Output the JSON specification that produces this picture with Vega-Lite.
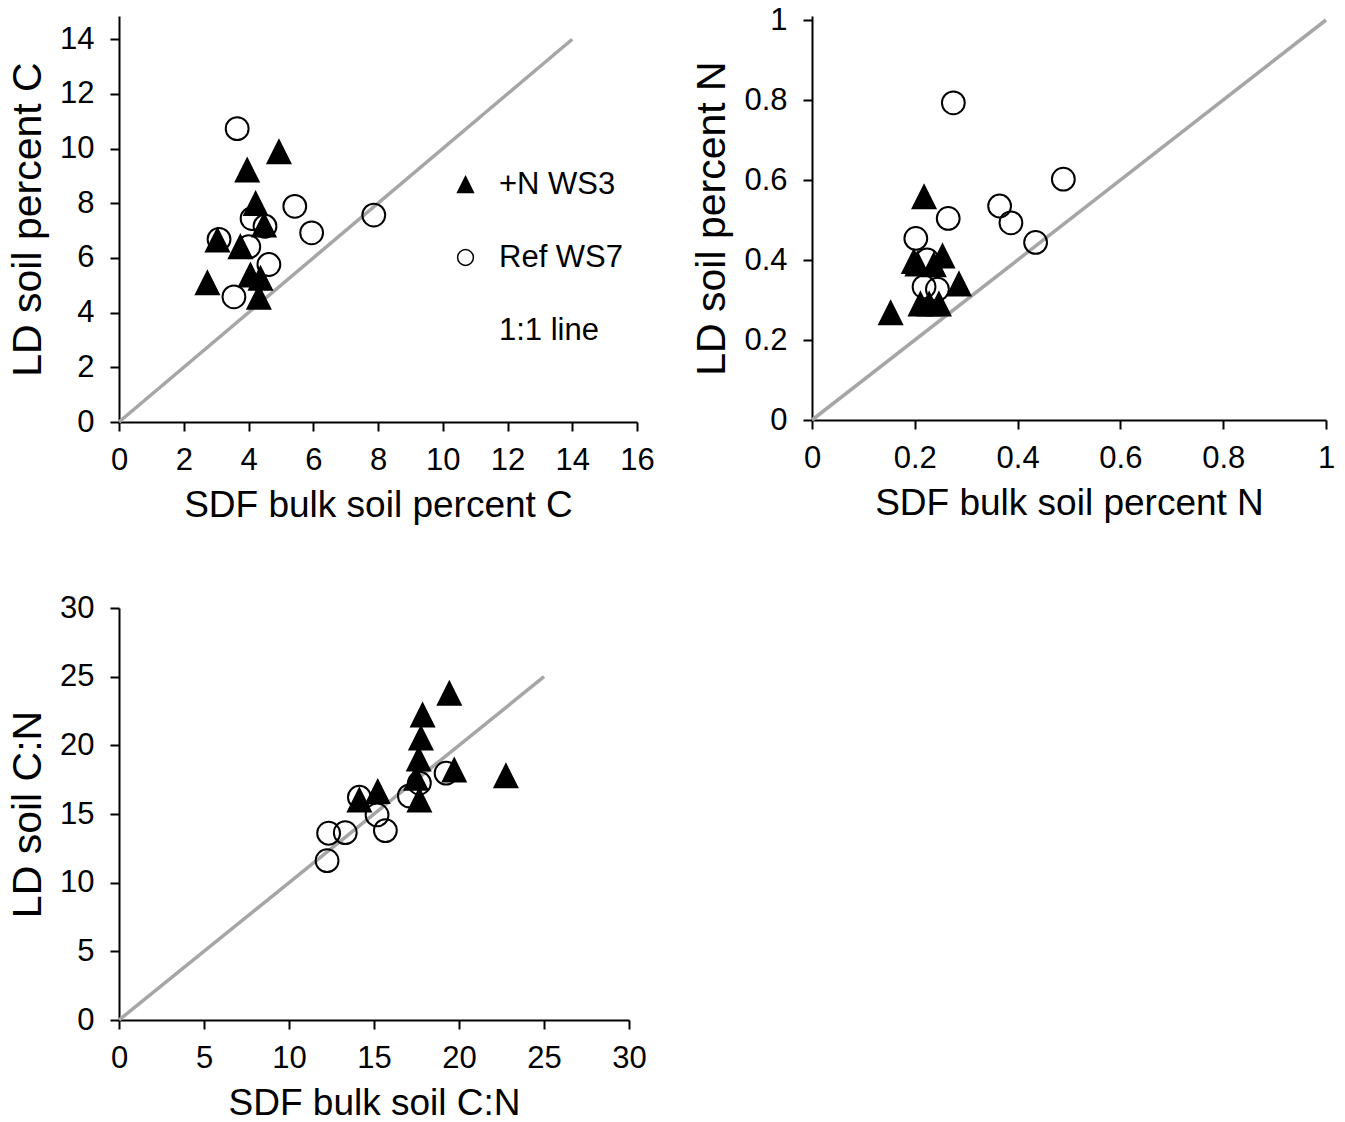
{
  "$schema": "https://vega.github.io/schema/vega-lite/v6.json",
  "padding": {"left": 7, "top": 4, "right": 5, "bottom": 5},
  "background": "white",
  "config": {
    "view": {"stroke": null},
    "font": "Liberation Sans",
    "axis": {
      "grid": false, "domainColor": "black", "domainWidth": 2,
      "tickColor": "black", "tickWidth": 2, "tickSize": 9,
      "labelFontSize": 31, "labelColor": "black", "labelFont": "Liberation Sans",
      "titleColor": "black", "titleFontWeight": "normal", "titleFont": "Liberation Sans",
      "labelFlush": false, "labelOverlap": false, "labelBound": false
    },
    "axisX": {"labelPadding": 14, "titleFontSize": 37, "titlePadding": 12},
    "axisY": {"labelPadding": 16, "titleFontSize": 41, "titlePadding": 10},
    "legend": {"labelFontSize": 31, "labelFont": "Liberation Sans", "labelColor": "black", "padding": 0}
  },
  "bounds": "flush",
  "columns": 2,
  "spacing": {"row": 186, "column": 175},
  "resolve": {
    "scale": {"shape": "independent", "fill": "independent"},
    "legend": {"shape": "independent", "fill": "independent"}
  },
  "concat": [
    {
      "width": 518, "height": 406,
      "encoding": {
        "x": {"field": "sdf", "type": "quantitative", "scale": {"domain": [0, 16], "nice": false}, "axis": {"title": "SDF bulk soil percent C", "values": [0,2,4,6,8,10,12,14,16]}},
        "y": {"field": "ld", "type": "quantitative", "scale": {"domain": [0, 14.85], "nice": false}, "axis": {"title": "LD soil percent C", "values": [0,2,4,6,8,10,12,14]}}
      },
      "layer": [
        {
          "data": {"values": [{"sdf": 0, "ld": 0}, {"sdf": 14, "ld": 14}]},
          "mark": {"type": "line", "color": "#a6a6a6", "strokeWidth": 3.5}
        },
        {
          "data": {"values": [
            {"group": "Ref WS7", "sdf": 3.65, "ld": 10.73},
            {"group": "Ref WS7", "sdf": 5.43, "ld": 7.89},
            {"group": "Ref WS7", "sdf": 7.87, "ld": 7.57},
            {"group": "Ref WS7", "sdf": 4.11, "ld": 7.44},
            {"group": "Ref WS7", "sdf": 4.51, "ld": 7.16},
            {"group": "Ref WS7", "sdf": 5.95, "ld": 6.92},
            {"group": "Ref WS7", "sdf": 3.09, "ld": 6.68},
            {"group": "Ref WS7", "sdf": 4.01, "ld": 6.41},
            {"group": "Ref WS7", "sdf": 4.63, "ld": 5.76},
            {"group": "Ref WS7", "sdf": 3.55, "ld": 4.58},
            {"group": "+N WS3", "sdf": 4.94, "ld": 9.88},
            {"group": "+N WS3", "sdf": 3.96, "ld": 9.21},
            {"group": "+N WS3", "sdf": 4.22, "ld": 7.99},
            {"group": "+N WS3", "sdf": 4.48, "ld": 7.2},
            {"group": "+N WS3", "sdf": 3.04, "ld": 6.65},
            {"group": "+N WS3", "sdf": 3.75, "ld": 6.41},
            {"group": "+N WS3", "sdf": 4.06, "ld": 5.37},
            {"group": "+N WS3", "sdf": 4.37, "ld": 5.25},
            {"group": "+N WS3", "sdf": 2.73, "ld": 5.09},
            {"group": "+N WS3", "sdf": 4.32, "ld": 4.56}
          ]},
          "mark": {"type": "point", "filled": true, "stroke": "black", "strokeWidth": 2, "size": 520, "opacity": 1},
          "encoding": {
            "shape": {"field": "group", "type": "nominal", "sort": null,
              "scale": {"domain": ["+N WS3", "Ref WS7", "1:1 line"], "range": ["M0,-1L1,1L-1,1Z", "circle", "M0,0"]},
              "legend": {"title": null, "orient": "none", "legendX": 331, "legendY": 153, "symbolSize": 250, "rowPadding": 41, "labelOffset": 18,
                "encode": {"symbols": {"update": {"stroke": {"value": "black"}, "strokeWidth": {"value": 2}, "opacity": {"value": 1}}}}}},
            "fill": {"field": "group", "type": "nominal", "sort": null,
              "scale": {"domain": ["+N WS3", "Ref WS7", "1:1 line"], "range": ["black", "transparent", "transparent"]},
              "legend": {"title": null, "orient": "none", "legendX": 331, "legendY": 153, "symbolSize": 250, "rowPadding": 41, "labelOffset": 18,
                "encode": {"symbols": {"update": {"stroke": {"value": "black"}, "strokeWidth": {"value": 2}, "opacity": {"value": 1}}}}}}
          }
        }
      ]
    },
    {
      "width": 514, "height": 404,
      "encoding": {
        "x": {"field": "sdf", "type": "quantitative", "scale": {"domain": [0, 1], "nice": false}, "axis": {"title": "SDF bulk soil percent N", "values": [0,0.2,0.4,0.6,0.8,1], "format": "~g"}},
        "y": {"field": "ld", "type": "quantitative", "scale": {"domain": [0, 1.01], "nice": false}, "axis": {"title": "LD soil percent N", "values": [0,0.2,0.4,0.6,0.8,1], "format": "~g"}}
      },
      "layer": [
        {
          "data": {"values": [{"sdf": 0, "ld": 0}, {"sdf": 1, "ld": 1}]},
          "mark": {"type": "line", "color": "#a6a6a6", "strokeWidth": 3.5}
        },
        {
          "data": {"values": [
            {"group": "Ref WS7", "sdf": 0.275, "ld": 0.793},
            {"group": "Ref WS7", "sdf": 0.489, "ld": 0.602},
            {"group": "Ref WS7", "sdf": 0.365, "ld": 0.535},
            {"group": "Ref WS7", "sdf": 0.387, "ld": 0.493},
            {"group": "Ref WS7", "sdf": 0.435, "ld": 0.444},
            {"group": "Ref WS7", "sdf": 0.265, "ld": 0.504},
            {"group": "Ref WS7", "sdf": 0.202, "ld": 0.454},
            {"group": "Ref WS7", "sdf": 0.224, "ld": 0.4},
            {"group": "Ref WS7", "sdf": 0.218, "ld": 0.333},
            {"group": "Ref WS7", "sdf": 0.244, "ld": 0.327},
            {"group": "+N WS3", "sdf": 0.218, "ld": 0.558},
            {"group": "+N WS3", "sdf": 0.254, "ld": 0.41},
            {"group": "+N WS3", "sdf": 0.198, "ld": 0.396},
            {"group": "+N WS3", "sdf": 0.205, "ld": 0.39},
            {"group": "+N WS3", "sdf": 0.237, "ld": 0.388},
            {"group": "+N WS3", "sdf": 0.286, "ld": 0.34},
            {"group": "+N WS3", "sdf": 0.211, "ld": 0.29},
            {"group": "+N WS3", "sdf": 0.228, "ld": 0.29},
            {"group": "+N WS3", "sdf": 0.247, "ld": 0.29},
            {"group": "+N WS3", "sdf": 0.153, "ld": 0.268}
          ]},
          "mark": {"type": "point", "filled": true, "stroke": "black", "strokeWidth": 2, "size": 520, "opacity": 1},
          "encoding": {
            "shape": {"field": "group", "type": "nominal", "scale": {"domain": ["+N WS3", "Ref WS7"], "range": ["M0,-1L1,1L-1,1Z", "circle"]}, "legend": null},
            "fill": {"field": "group", "type": "nominal", "scale": {"domain": ["+N WS3", "Ref WS7"], "range": ["black", "transparent"]}, "legend": null}
          }
        }
      ]
    },
    {
      "width": 510, "height": 412,
      "encoding": {
        "x": {"field": "sdf", "type": "quantitative", "scale": {"domain": [0, 30], "nice": false}, "axis": {"title": "SDF bulk soil C:N", "values": [0,5,10,15,20,25,30]}},
        "y": {"field": "ld", "type": "quantitative", "scale": {"domain": [0, 30], "nice": false}, "axis": {"title": "LD soil  C:N", "values": [0,5,10,15,20,25,30]}}
      },
      "layer": [
        {
          "data": {"values": [{"sdf": 0, "ld": 0}, {"sdf": 25, "ld": 25}]},
          "mark": {"type": "line", "color": "#a6a6a6", "strokeWidth": 3.5}
        },
        {
          "data": {"values": [
            {"group": "Ref WS7", "sdf": 19.24, "ld": 17.97},
            {"group": "Ref WS7", "sdf": 17.67, "ld": 17.25},
            {"group": "Ref WS7", "sdf": 17.08, "ld": 16.32},
            {"group": "Ref WS7", "sdf": 14.14, "ld": 16.22},
            {"group": "Ref WS7", "sdf": 15.18, "ld": 14.93},
            {"group": "Ref WS7", "sdf": 15.67, "ld": 13.79},
            {"group": "Ref WS7", "sdf": 13.31, "ld": 13.64},
            {"group": "Ref WS7", "sdf": 12.33, "ld": 13.6},
            {"group": "Ref WS7", "sdf": 12.24, "ld": 11.6},
            {"group": "+N WS3", "sdf": 19.43, "ld": 23.79},
            {"group": "+N WS3", "sdf": 17.86, "ld": 22.21},
            {"group": "+N WS3", "sdf": 17.76, "ld": 20.52},
            {"group": "+N WS3", "sdf": 17.63, "ld": 18.99},
            {"group": "+N WS3", "sdf": 19.72, "ld": 18.2},
            {"group": "+N WS3", "sdf": 22.76, "ld": 17.77},
            {"group": "+N WS3", "sdf": 17.47, "ld": 17.6},
            {"group": "+N WS3", "sdf": 15.22, "ld": 16.63},
            {"group": "+N WS3", "sdf": 14.14, "ld": 16.02},
            {"group": "+N WS3", "sdf": 17.67, "ld": 16.02}
          ]},
          "mark": {"type": "point", "filled": true, "stroke": "black", "strokeWidth": 2, "size": 520, "opacity": 1},
          "encoding": {
            "shape": {"field": "group", "type": "nominal", "scale": {"domain": ["+N WS3", "Ref WS7"], "range": ["M0,-1L1,1L-1,1Z", "circle"]}, "legend": null},
            "fill": {"field": "group", "type": "nominal", "scale": {"domain": ["+N WS3", "Ref WS7"], "range": ["black", "transparent"]}, "legend": null}
          }
        }
      ]
    }
  ]
}
